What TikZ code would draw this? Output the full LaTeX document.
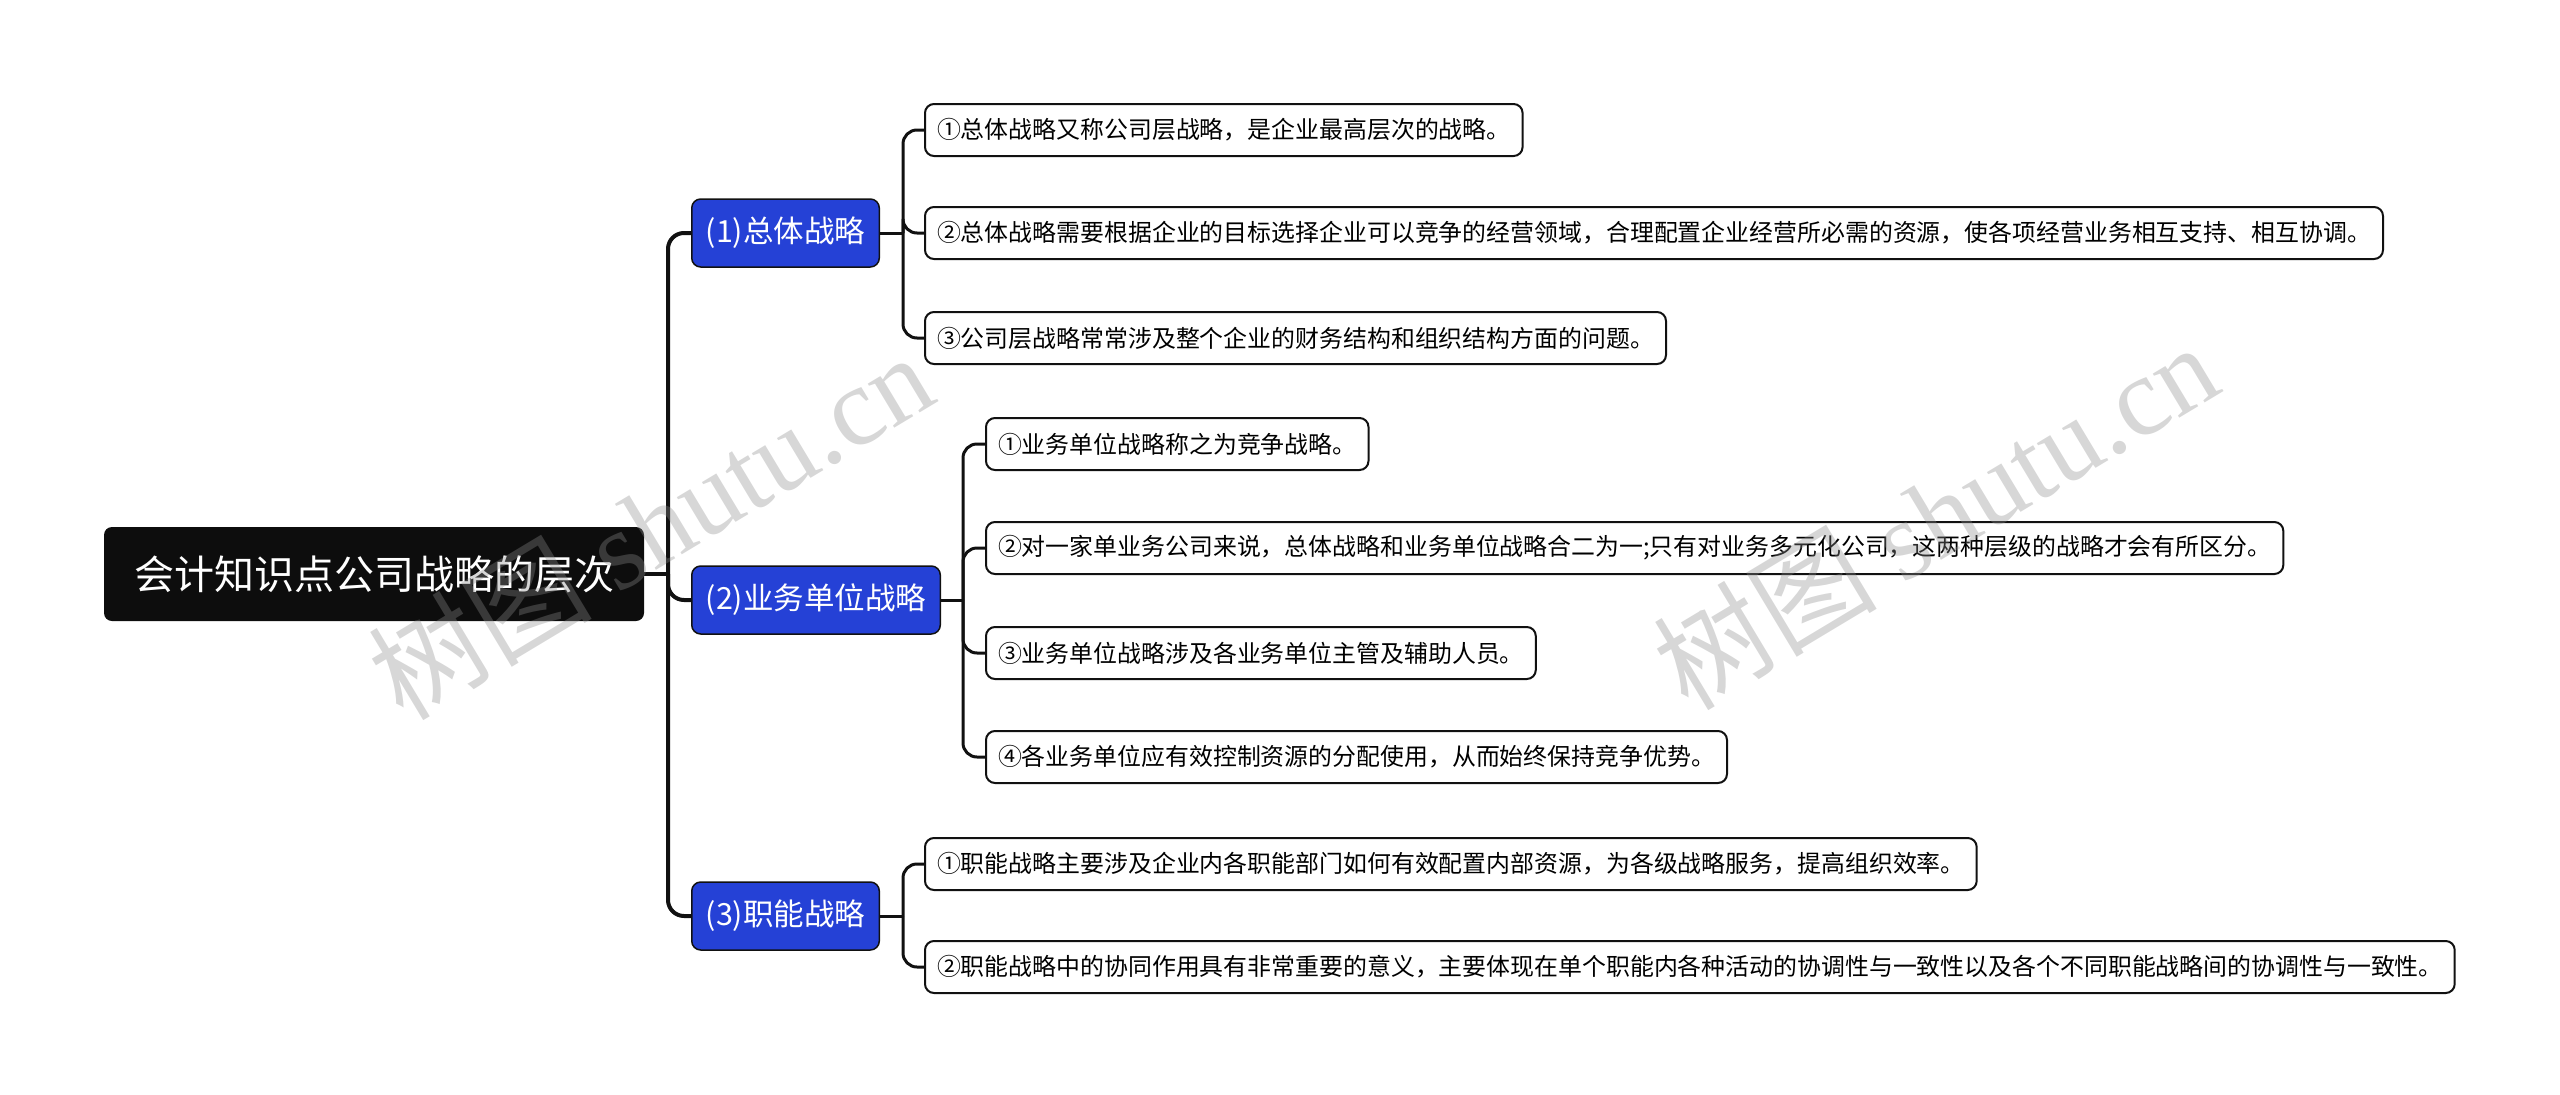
\documentclass[tikz,border=0pt]{standalone}
\usepackage{fontspec}
\setmainfont{Noto Sans CJK SC}
\newfontfamily\wmlatin{Liberation Serif}
\definecolor{mmroot}{HTML}{0D0D0D}
\definecolor{mmblue}{HTML}{2541D6}
\definecolor{mmline}{HTML}{111111}
\definecolor{mmwater}{HTML}{8C8C8C}

\begin{document}
\begin{tikzpicture}[x=1pt,y=-1pt,
  rootbox/.style={fill=mmroot,text=white,rounded corners=8pt,minimum height=94pt,inner xsep=30pt,font=\fontsize{40}{48}\selectfont},
  topicbox/.style={fill=mmblue,draw=mmline,line width=1.5pt,text=white,rounded corners=9pt,minimum height=68pt,inner xsep=14pt,anchor=west,font=\fontsize{30.5}{36}\selectfont},
  leafbox/.style={fill=white,draw=mmline,line width=2pt,rounded corners=9pt,minimum height=52pt,inner xsep=12pt,anchor=west,font=\fontsize{23.9}{28}\selectfont},
  trunk/.style={draw=mmline,line width=4pt,rounded corners=16pt},
  twig/.style={draw=mmline,line width=3pt,rounded corners=14pt},
  water/.style={rotate=31,text=mmwater,text opacity=0.35,font=\fontsize{112}{120}\selectfont}]
  \useasboundingbox (0,0) rectangle (2560,1095);
  % root and the three strategy levels
  \node[rootbox] (root) at (374,574) {会计知识点公司战略的层次};
  \node[topicbox] (s1) at (691,233) {(1)总体战略};
  \node[topicbox] (s2) at (691,600) {(2)业务单位战略};
  \node[topicbox] (s3) at (691,916) {(3)职能战略};
  \coordinate (hub) at (668,574);
  \draw[trunk] (root.east) -- (hub);
  \foreach \s in {s1,s2,s3}{\draw[trunk] (hub) |- (\s.west);}
  % (1)
  \foreach \y/\t [count=\i] in {130/{①总体战略又称公司层战略，是企业最高层次的战略。},
      233/{②总体战略需要根据企业的目标选择企业可以竞争的经营领域，合理配置企业经营所必需的资源，使各项经营业务相互支持、相互协调。},
      338/{③公司层战略常常涉及整个企业的财务结构和组织结构方面的问题。}}
    {\node[leafbox] (a\i) at (924,\y) {\t};}
  \coordinate (h1) at (903,233);
  \draw[twig] (s1.east) -- (h1);
  \foreach \i in {1,2,3}{\draw[twig] (h1) |- (a\i.west);}
  % (2)
  \foreach \y/\t [count=\i] in {444/{①业务单位战略称之为竞争战略。},
      548/{②对一家单业务公司来说，总体战略和业务单位战略合二为一;只有对业务多元化公司，这两种层级的战略才会有所区分。},
      653/{③业务单位战略涉及各业务单位主管及辅助人员。},
      757/{④各业务单位应有效控制资源的分配使用，从而始终保持竞争优势。}}
    {\node[leafbox] (b\i) at (985,\y) {\t};}
  \coordinate (h2) at (963,600);
  \draw[twig] (s2.east) -- (h2);
  \foreach \i in {1,...,4}{\draw[twig] (h2) |- (b\i.west);}
  % (3)
  \foreach \y/\t [count=\i] in {864/{①职能战略主要涉及企业内各职能部门如何有效配置内部资源，为各级战略服务，提高组织效率。},
      967/{②职能战略中的协同作用具有非常重要的意义，主要体现在单个职能内各种活动的协调性与一致性以及各个不同职能战略间的协调性与一致性。}}
    {\node[leafbox] (c\i) at (924,\y) {\t};}
  \coordinate (h3) at (903,916);
  \draw[twig] (s3.east) -- (h3);
  \foreach \i in {1,2}{\draw[twig] (h3) |- (c\i.west);}
  % watermarks
  \node[water] (wm1) at (650,525) {树图 {\wmlatin shutu.cn}};
  \node[water] (wm2) at (1935,515) {树图 {\wmlatin shutu.cn}};
\end{tikzpicture}
\end{document}
